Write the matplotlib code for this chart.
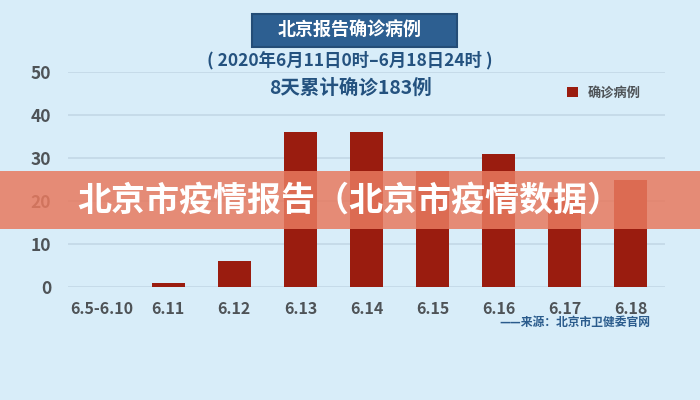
import matplotlib.pyplot as plt
from matplotlib.patches import Rectangle, FancyBboxPatch

plt.rcParams['font.family'] = ['Noto Sans CJK SC', 'DejaVu Sans']

# 数据
dates = ['6.5-6.10', '6.11', '6.12', '6.13', '6.14', '6.15', '6.16', '6.17', '6.18']
cases = [0, 1, 6, 36, 36, 27, 31, 21, 25]
yticks = [0, 10, 20, 30, 40, 50]

bg = '#d8edf9'
bar_color = '#9a1c0f'
blue = '#24527f'
grey = '#4e5357'

fig = plt.figure(figsize=(7, 4), dpi=100, facecolor=bg)
ax = fig.add_axes([0.097, 0.2825, 0.853, 0.5375])
ax.set_facecolor(bg)

x = range(len(dates))
ax.bar(x, cases, width=0.5, color=bar_color, zorder=3, label='确诊病例')
ax.set_xlim(-0.52, len(dates) - 0.48)
ax.set_ylim(0, 50)
ax.set_yticks(yticks)
ax.set_yticklabels([str(v) for v in yticks], fontsize=12.5, color=grey, fontweight='bold')
ax.set_xticks(list(x))
ax.set_xticklabels(dates, fontsize=11.5, color=grey, fontweight='bold')
ax.tick_params(length=0, pad=10)
ax.tick_params(axis='y', pad=12)
ax.grid(axis='y', color='#c3d8e6', linewidth=1.2, zorder=0)
for s in ax.spines.values():
    s.set_visible(False)

leg = ax.legend(loc='upper right', bbox_to_anchor=(0.98, 0.99), frameon=False,
                handlelength=0.8, handleheight=0.8, labelcolor=grey,
                prop={'size': 9.5, 'weight': 'bold'})

# 标题
fig.patches.append(FancyBboxPatch((252 / 700, 1 - 47 / 400), 205 / 700, 33 / 400,
                                  boxstyle='square,pad=0', transform=fig.transFigure,
                                  facecolor='#2d5f91', edgecolor='#244d77', linewidth=1.5))
fig.text(0.5, 1 - 30 / 400, '北京报告确诊病例', ha='center', va='center',
         fontsize=13, fontweight='heavy', color='white')
fig.text(0.5, 1 - 60 / 400, '( 2020年6月11日0时–6月18日24时 )', ha='center', va='center',
         fontsize=12.5, fontweight='bold', color=blue)
fig.text(0.5, 1 - 88 / 400, '8天累计确诊183例', ha='center', va='center',
         fontsize=14, fontweight='bold', color=blue)
fig.text(650 / 700, 1 - 322 / 400, '——来源：北京市卫健委官网', ha='right', va='center',
         fontsize=8.5, fontweight='bold', color='#2a5b8c')

# 横幅
fig.patches.append(Rectangle((0, 1 - 229 / 400), 1, 58 / 400, transform=fig.transFigure,
                             facecolor='#e87a5f', alpha=0.85, edgecolor='none', zorder=5))
fig.text(349 / 700, 1 - 200 / 400, '北京市疫情报告（北京市疫情数据）', ha='center', va='center',
         fontsize=24.5, fontweight='heavy', color='white', zorder=6)

fig.savefig('out.png', dpi=100, facecolor=bg)
